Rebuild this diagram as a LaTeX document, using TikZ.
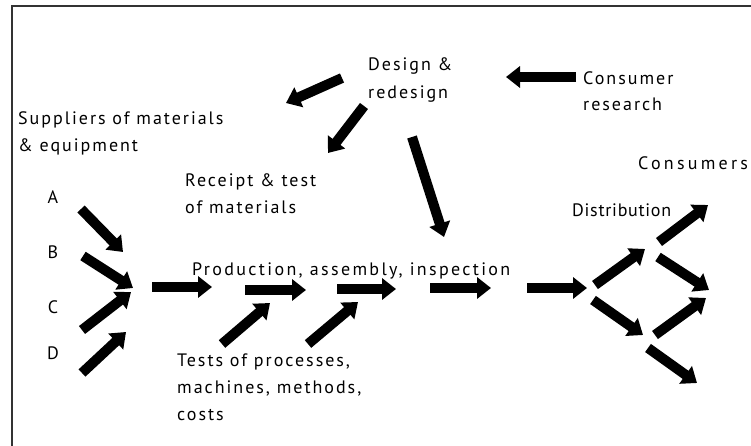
\documentclass[tikz,border=0pt]{standalone}
\usepackage{fontspec}
\setmainfont[LetterSpace=11]{PT Sans}
\usetikzlibrary{arrows.meta}
\begin{document}
\begin{tikzpicture}[x=1pt,y=-1pt,
  blk/.style={line width=10pt,-{Triangle[length=14pt,width=21pt]}},
  lbl/.style={anchor=west,inner sep=0pt,align=left,font=\fontsize{18}{27}\selectfont},
  letter/.style={inner sep=0pt,font=\fontsize{18}{27}\selectfont}]
\useasboundingbox (0,0) rectangle (751,446);
\draw[line width=1.5pt,black!80] (12,446) -- (12,6) -- (751,6);
% labels
\node[lbl] (design) at (368,80) {Design \&\\[1pt]redesign};
\node[lbl] (research) at (583,91) {Consumer\\[-1pt]research};
\node[lbl] (suppliers) at (18,133.5) {Suppliers of materials\\\& equipment};
\node[letter] (A) at (53,197) {A};
\node[letter] (B) at (53,252) {B};
\node[letter] (C) at (53,307) {C};
\node[letter] (D) at (53,353) {D};
\node[lbl] (receipt) at (185,193.5) {Receipt \& test\\of materials};
\node[lbl] (production) at (192,271) {\addfontfeatures{LetterSpace=13}Production, assembly, inspection};
\node[lbl] (tests) at (177,387) {Tests of processes,\\machines, methods,\\costs};
\node[lbl] (distribution) at (572,210) {\addfontfeatures{LetterSpace=4}Distribution};
\node[lbl] (consumers) at (638,163) {\addfontfeatures{LetterSpace=18}Consumers};
% arrow end points
\coordinate (dlS) at (342,78);  \coordinate (dlE) at (286,103);
\coordinate (drS) at (364,106); \coordinate (drE) at (328,153);
\coordinate (crS) at (576,77);  \coordinate (crE) at (506,77);
\coordinate (ddS) at (412,137); \coordinate (ddE) at (444,237);
\coordinate (aS) at (81,209);   \coordinate (aE) at (123,252);
\coordinate (bS) at (83,256);   \coordinate (bE) at (133,288);
\coordinate (cS) at (82,330);   \coordinate (cE) at (131,292);
\coordinate (dS) at (82,373);   \coordinate (dE) at (126,332);
\coordinate (h1S) at (152,287); \coordinate (h1E) at (212,287);
\coordinate (h2S) at (245,290); \coordinate (h2E) at (306,290);
\coordinate (h3S) at (337,289); \coordinate (h3E) at (396,289);
\coordinate (h4S) at (430,288); \coordinate (h4E) at (491,288);
\coordinate (h5S) at (527,288); \coordinate (h5E) at (587,288);
\coordinate (t1S) at (222,344); \coordinate (t1E) at (270,303);
\coordinate (t2S) at (308,344); \coordinate (t2E) at (358,302);
\coordinate (u1S) at (595,285); \coordinate (u1E) at (645,249);
\coordinate (d1S) at (593,300); \coordinate (d1E) at (643,335);
\coordinate (u2S) at (659,242); \coordinate (u2E) at (708,205);
\coordinate (d2S) at (658,257); \coordinate (d2E) at (709,290);
\coordinate (u3S) at (655,335); \coordinate (u3E) at (706,298);
\coordinate (d3S) at (648,348); \coordinate (d3E) at (697,383);
% arrows
\foreach \a in {dl,dr,cr,dd,a,b,c,d,h1,h2,h3,h4,h5,t1,t2,u1,d1,u2,d2,u3,d3}
  \draw[blk] (\a S) -- (\a E);
\end{tikzpicture}
\end{document}
